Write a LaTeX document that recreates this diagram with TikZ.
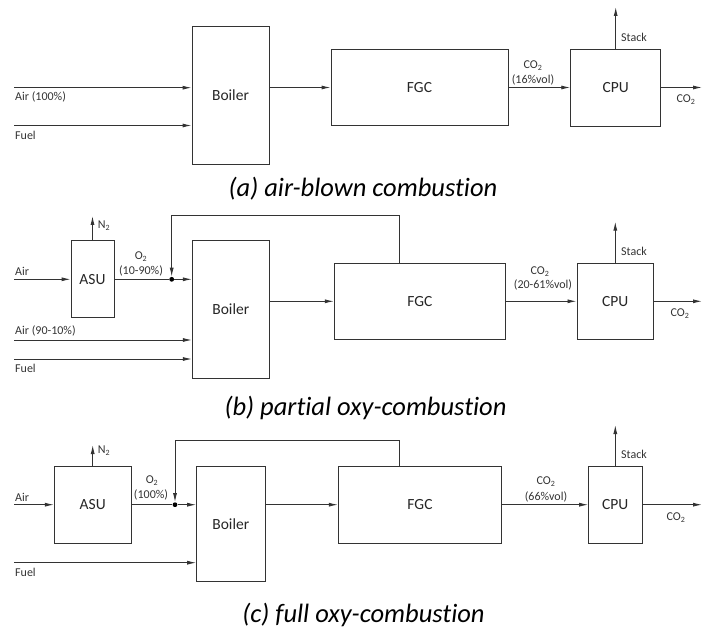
\documentclass[tikz,border=0pt]{standalone}
\usepackage{fontspec}
\setmainfont{Carlito}[Ligatures=NoCommon]
\usetikzlibrary{arrows.meta}
\begin{document}
\begin{tikzpicture}[x=1pt,y=-1pt,
  box/.style={draw=black!80, line width=0.9pt, inner sep=0pt, font=\fontsize{15.5}{18}\selectfont, text=black!85},
  flow/.style={draw=black!80, line width=0.9pt, -{Latex[length=9pt,width=4pt]}},
  pipe/.style={draw=black!80, line width=0.9pt},
  lbl/.style={font=\fontsize{12}{14}\selectfont, text=black!80, inner sep=0pt},
  captext/.style={font=\fontsize{26.5}{30}\selectfont\itshape, inner sep=0pt},
  dotj/.style={circle, fill=black, inner sep=0pt, minimum size=4.8pt}]
\useasboundingbox (0,0) rectangle (702,631);
% ---------------- (a)
\node[box, minimum width=77pt, minimum height=138pt] (boilerA) at (230.5,95) {Boiler};
\node[box, minimum width=177pt, minimum height=76.5pt] (fgcA) at (419.5,87.5) {FGC};
\node[box, minimum width=90pt, minimum height=77pt] (cpuA) at (615.7,87.5) {CPU};
\coordinate (airA) at (14,87.7);
\coordinate (fuelA) at (14,125.5);
\coordinate (stackA) at (615.7,7);
\coordinate (outA) at (702,87.5);
\draw[flow] (airA) -- (airA -| boilerA.west);
\draw[flow] (fuelA) -- (fuelA -| boilerA.west);
\draw[flow] (boilerA.east |- fgcA.west) -- (fgcA.west);
\draw[flow] (fgcA.east) -- (cpuA.west);
\draw[flow] (cpuA.north) -- (stackA);
\draw[flow] (cpuA.east) -- (outA);
\node[lbl, anchor=west] (lAirA) at (15,97) {Air (100\%)};
\node[lbl, anchor=west] (lFuelA) at (15,135) {Fuel};
\node[lbl] (lco2A) at (533,66) {CO\textsubscript{2}};
\node[lbl] (lpctA) at (533,80) {(16\%vol)};
\node[lbl] (lstackA) at (634,37) {Stack};
\node[lbl] (loutA) at (686,100) {CO\textsubscript{2}};
\node[captext] (capA) at (363,189) {(a) air-blown combustion};
% ---------------- (b)
\node[box, minimum width=43pt, minimum height=77pt] (asuB) at (92.5,279.2) {ASU};
\node[box, minimum width=77pt, minimum height=137.6pt] (boilerB) at (230.8,309.5) {Boiler};
\node[box, minimum width=171pt, minimum height=76pt] (fgcB) at (419.8,301.3) {FGC};
\node[box, minimum width=76.7pt, minimum height=76pt] (cpuB) at (615.3,301.3) {CPU};
\node[dotj] (jB) at (171.7,279.3) {};
\coordinate (airB) at (14,279.3);
\coordinate (n2B) at (92.5,216);
\coordinate (air2B) at (14,340);
\coordinate (fuelB) at (14,359);
\coordinate (recB) at (399.3,215);
\coordinate (stackB) at (615.3,221.7);
\coordinate (outB) at (702,301.3);
\draw[flow] (airB) -- (airB -| asuB.west);
\draw[flow] (asuB.north) -- (n2B);
\draw[pipe] (asuB.east |- jB) -- (jB);
\draw[flow] (jB) -- (jB -| boilerB.west);
\draw[flow] (recB |- fgcB.north) -- (recB) -| (jB.north);
\draw[flow] (air2B) -- (air2B -| boilerB.west);
\draw[flow] (fuelB) -- (fuelB -| boilerB.west);
\draw[flow] (boilerB.east |- fgcB.west) -- (fgcB.west);
\draw[flow] (fgcB.east) -- (cpuB.west);
\draw[flow] (cpuB.north) -- (stackB);
\draw[flow] (cpuB.east) -- (outB);
\node[lbl, anchor=west] (lAirB) at (15,271) {Air};
\node[lbl] (lN2B) at (104,225.5) {N\textsubscript{2}};
\node[lbl] (lO2B) at (141,257) {O\textsubscript{2}};
\node[lbl] (lO2pB) at (141,271) {(10-90\%)};
\node[lbl, anchor=west] (lAir2B) at (15,331) {Air (90-10\%)};
\node[lbl, anchor=west] (lFuelB) at (15,368) {Fuel};
\node[lbl] (lco2B) at (540,272) {CO\textsubscript{2}};
\node[lbl] (lpctB) at (543,285) {(20-61\%vol)};
\node[lbl] (lstackB) at (634,251) {Stack};
\node[lbl] (loutB) at (680,314) {CO\textsubscript{2}};
\node[captext] (capB) at (365.5,408) {(b) partial oxy-combustion};
% ---------------- (c)
\node[box, minimum width=76.7pt, minimum height=77.3pt] (asuC) at (92.7,504.7) {ASU};
\node[box, minimum width=68.3pt, minimum height=115.7pt] (boilerC) at (230.8,523.8) {Boiler};
\node[box, minimum width=163.4pt, minimum height=77.3pt] (fgcC) at (420,504.7) {FGC};
\node[box, minimum width=53.3pt, minimum height=77.3pt] (cpuC) at (615.3,504.7) {CPU};
\node[dotj] (jC) at (175,504.7) {};
\coordinate (airC) at (14,504.7);
\coordinate (n2C) at (92.7,445);
\coordinate (fuelC) at (14,562.7);
\coordinate (recC) at (399.3,440.7);
\coordinate (stackC) at (615.3,425);
\coordinate (outC) at (702,504.7);
\draw[flow] (airC) -- (asuC.west);
\draw[flow] (asuC.north) -- (n2C);
\draw[pipe] (asuC.east) -- (jC);
\draw[flow] (jC) -- (jC -| boilerC.west);
\draw[flow] (recC |- fgcC.north) -- (recC) -| (jC.north);
\draw[flow] (fuelC) -- (fuelC -| boilerC.west);
\draw[flow] (boilerC.east |- fgcC.west) -- (fgcC.west);
\draw[flow] (fgcC.east) -- (cpuC.west);
\draw[flow] (cpuC.north) -- (stackC);
\draw[flow] (cpuC.east) -- (outC);
\node[lbl, anchor=west] (lAirC) at (15,497) {Air};
\node[lbl] (lN2C) at (104,451) {N\textsubscript{2}};
\node[lbl] (lO2C) at (152,481) {O\textsubscript{2}};
\node[lbl] (lO2pC) at (151,495) {(100\%)};
\node[lbl, anchor=west] (lFuelC) at (15,572) {Fuel};
\node[lbl] (lco2C) at (546,482) {CO\textsubscript{2}};
\node[lbl] (lpctC) at (546,497) {(66\%vol)};
\node[lbl] (lstackC) at (634,454) {Stack};
\node[lbl] (loutC) at (676,518) {CO\textsubscript{2}};
\node[captext] (capC) at (363.5,615) {(c) full oxy-combustion};
\end{tikzpicture}
\end{document}
